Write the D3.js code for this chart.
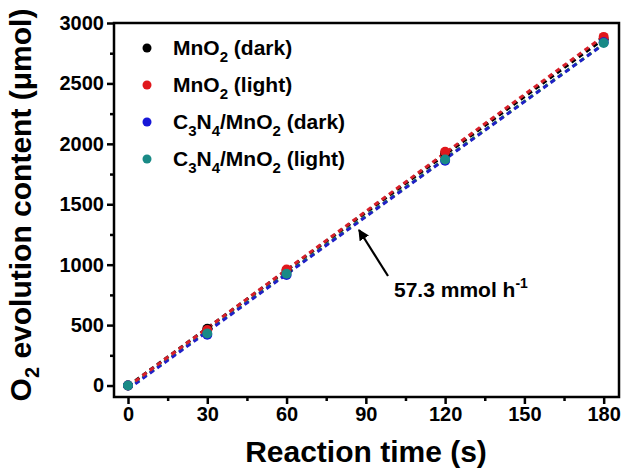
<!DOCTYPE html>
<html>
<head>
<meta charset="utf-8">
<script src="https://cdn.jsdelivr.net/npm/d3@7"></script>
<style>
  body { margin: 0; background: #fff; }
  text { font-family: "Liberation Sans", Arial, sans-serif; font-weight: bold; fill: #000; }
</style>
</head>
<body>
<svg id="chart" width="627" height="472"></svg>
<script>
// Reaction time (s)
const times = [0, 30, 60, 120, 180];
// O2 evolved (µmol) for each sample
const mno2Dark   = [0, 470, 950, 1920, 2865];
const mno2Light  = [0, 460, 960, 1935, 2885];
const c3n4Dark   = [0, 420, 915, 1860, 2840];
const c3n4Light  = [0, 430, 925, 1870, 2835];

const seriesNames  = ["MnO2 (dark)", "MnO2 (light)", "C3N4/MnO2 (dark)", "C3N4/MnO2 (light)"];
const pointColors  = ["#000000", "#e0171c", "#1717d8", "#198a86"];
const lineColors   = ["#000000", "#d8202a", "#2020c8", "#2e9440"];

const xTicks = [0, 30, 60, 90, 120, 150, 180];
const yTicks = [0, 500, 1000, 1500, 2000, 2500, 3000];
const rateLabel = "57.3 mmol h";

const series = [mno2Dark, mno2Light, c3n4Dark, c3n4Light];

const svg = d3.select("#chart");
const L = 114, R = 619, T = 23, B = 397;

const x = d3.scaleLinear().domain([-5.3, 185.8]).range([L, R]);
const y = d3.scaleLinear().domain([-95, 3000]).range([B, T]);

// least-squares fit for each series
function fit(xs, ys) {
  const mx = d3.mean(xs), my = d3.mean(ys);
  let num = 0, den = 0;
  xs.forEach((v, i) => { num += (v - mx) * (ys[i] - my); den += (v - mx) ** 2; });
  const k = num / den;
  return { k, b: my - k * mx };
}

// dashed fit lines
const lineOrder = [0, 3, 2, 1];
lineOrder.forEach(i => {
  const f = fit(times, series[i]);
  svg.append("line")
    .attr("x1", x(0)).attr("y1", y(f.b))
    .attr("x2", x(180)).attr("y2", y(f.k * 180 + f.b))
    .attr("stroke", lineColors[i])
    .attr("stroke-width", 3)
    .attr("stroke-dasharray", "5,4");
});

// data points
[0, 1, 2, 3].forEach(i => {
  svg.append("g").selectAll("circle")
    .data(times.map((t, j) => [t, series[i][j]]))
    .join("circle")
    .attr("cx", d => x(d[0]))
    .attr("cy", d => y(d[1]))
    .attr("r", 5)
    .attr("fill", pointColors[i]);
});

// frame
svg.append("rect")
  .attr("x", L).attr("y", T).attr("width", R - L).attr("height", B - T)
  .attr("fill", "none").attr("stroke", "#000").attr("stroke-width", 2.5);

// x axis
const xAxis = d3.axisBottom(x).tickValues(xTicks).tickSize(7).tickPadding(3).tickFormat(d3.format("d"));
const gx = svg.append("g").attr("transform", `translate(0,${B})`).call(xAxis);
gx.select(".domain").remove();
gx.selectAll(".tick line").attr("stroke-width", 2.5);
gx.selectAll(".tick text").style("font-size", "20px");
const gxm = svg.append("g").attr("transform", `translate(0,${B})`)
  .call(d3.axisBottom(x).tickValues(d3.range(15, 180, 30)).tickSize(4).tickFormat(""));
gxm.select(".domain").remove();
gxm.selectAll(".tick line").attr("stroke-width", 2.5);

// y axis
const yAxis = d3.axisLeft(y).tickValues(yTicks).tickSize(7).tickPadding(3).tickFormat(d3.format("d"));
const gy = svg.append("g").attr("transform", `translate(${L},0)`).call(yAxis);
gy.select(".domain").remove();
gy.selectAll(".tick line").attr("stroke-width", 2.5);
gy.selectAll(".tick text").style("font-size", "20px");
const gym = svg.append("g").attr("transform", `translate(${L},0)`)
  .call(d3.axisLeft(y).tickValues(d3.range(250, 3000, 500)).tickSize(4).tickFormat(""));
gym.select(".domain").remove();
gym.selectAll(".tick line").attr("stroke-width", 2.5);

// axis titles
svg.append("text")
  .attr("x", 366).attr("y", 462)
  .attr("text-anchor", "middle")
  .style("font-size", "30px")
  .text("Reaction time (s)");

const yt = svg.append("text")
  .attr("transform", `translate(31,205) rotate(-90)`)
  .attr("text-anchor", "middle")
  .style("font-size", "30px");
yt.append("tspan").text("O");
yt.append("tspan").attr("dy", 8).style("font-size", "20px").text("2");
yt.append("tspan").attr("dy", -8).text(" evolution content (\u03bcmol)");

// legend
const legY = [48, 85, 122, 159];
seriesNames.forEach((name, i) => {
  svg.append("circle").attr("cx", 147).attr("cy", legY[i]).attr("r", 4.5).attr("fill", pointColors[i]);
  const t = svg.append("text").attr("x", 173).attr("y", legY[i] + 7).style("font-size", "21px");
  // split formula into normal text and subscript digits
  const parts = name.match(/([A-Za-z\/ ()]+|\d)/g);
  let sub = false;
  parts.forEach(p => {
    if (/^\d$/.test(p)) {
      t.append("tspan").attr("dy", sub ? 0 : 7).style("font-size", "15px").text(p);
      sub = true;
    } else {
      t.append("tspan").attr("dy", sub ? -7 : 0).text(p);
      sub = false;
    }
  });
});

// rate annotation with arrow
svg.append("defs").append("marker")
  .attr("id", "arrowhead").attr("viewBox", "0 0 10 10")
  .attr("refX", 9).attr("refY", 5)
  .attr("markerWidth", 5).attr("markerHeight", 5)
  .attr("orient", "auto")
  .append("path").attr("d", "M0,0 L10,5 L0,10 Z").attr("fill", "#000");
svg.append("line")
  .attr("x1", 388).attr("y1", 276).attr("x2", 359).attr("y2", 230)
  .attr("stroke", "#000").attr("stroke-width", 2.2)
  .attr("marker-end", "url(#arrowhead)");
const rt = svg.append("text").attr("x", 394).attr("y", 297).style("font-size", "21px");
rt.append("tspan").text(rateLabel);
rt.append("tspan").attr("dy", -9).style("font-size", "14px").text("-1");
</script>
</body>
</html>
